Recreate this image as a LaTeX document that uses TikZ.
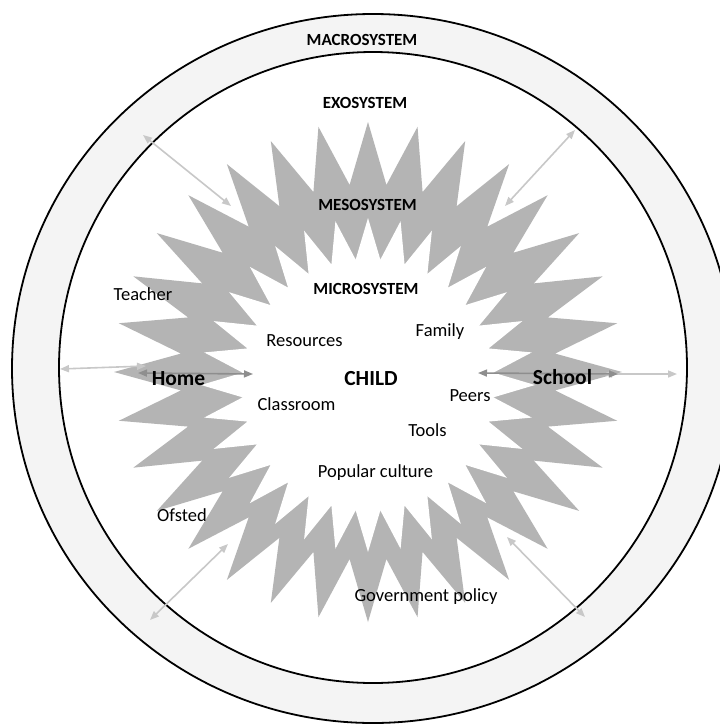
\documentclass[tikz,border=0pt]{standalone}
\usepackage{fontspec}
\setmainfont{Carlito}
\usetikzlibrary{arrows.meta}
\definecolor{ringfill}{HTML}{F4F4F4}
\definecolor{starfill}{HTML}{B4B4B4}
\definecolor{lightarrow}{HTML}{C8C8C8}
\definecolor{darkarrow}{HTML}{8E8E8E}
\tikzset{
  ringline/.style={line width=1.8pt, draw=black},
  syslabel/.style={font=\bfseries\fontsize{17}{20}\selectfont, anchor=base, inner sep=0pt},
  itemlabel/.style={font=\fontsize{18.5}{22}\selectfont, anchor=base, inner sep=0pt},
  placelabel/.style={font=\bfseries\fontsize{21.5}{25}\selectfont, anchor=base, inner sep=0pt},
  linkarrow/.style={line width=1.6pt, {Triangle[length=9pt,width=7pt]}-{Triangle[length=9pt,width=7pt]}},
  lightlink/.style={linkarrow, draw=lightarrow, fill=lightarrow},
  darklink/.style={linkarrow, draw=darkarrow, fill=darkarrow}
}
\begin{document}
\begin{tikzpicture}[x=1pt, y=-1pt]
\useasboundingbox (0,0) rectangle (720,724);
\fill[white] (0,0) rectangle (720,724);

% macrosystem ring and exosystem disc
\filldraw[ringline, fill=ringfill] (373,368.5) ellipse [x radius=361pt, y radius=354.5pt];
\filldraw[ringline, fill=white] (373,367.5) ellipse [x radius=314pt, y radius=315.5pt];

% mesosystem starburst
\begin{scope}[shift={(368,372)}]
  \fill[starfill] (0:254 and 250)
    \foreach \i in {0,...,31}{ -- ({\i*11.25+5.625}:188) -- ({(\i+1)*11.25}:254 and 250) } -- cycle;
\end{scope}
% microsystem centre
\begin{scope}[shift={(368,385)}]
  \fill[white] (0:167)
    \foreach \i in {0,...,31}{ -- ({\i*11.25+5.625}:126) -- ({(\i+1)*11.25}:167) } -- cycle;
\end{scope}

% link end points
\coordinate (ul1) at (143,135); \coordinate (ul2) at (231,206);
\coordinate (ur1) at (575,130); \coordinate (ur2) at (505,206);
\coordinate (ll1) at (150,620); \coordinate (ll2) at (228,544);
\coordinate (lr1) at (507,537); \coordinate (lr2) at (585,617);
\coordinate (hl1) at (60,369);  \coordinate (hl2) at (146,366);
\coordinate (hd1) at (138,373); \coordinate (hd2) at (253,374);
\coordinate (sd1) at (478,373); \coordinate (sd2) at (618,374);
\coordinate (sl1) at (603,374); \coordinate (sl2) at (677,374);

\draw[lightlink] (ul1) -- (ul2);
\draw[lightlink] (ur1) -- (ur2);
\draw[lightlink] (ll1) -- (ll2);
\draw[lightlink] (lr1) -- (lr2);
\draw[lightlink] (hl1) -- (hl2);
\draw[lightlink] (sl1) -- (sl2);
\draw[darklink] (hd1) -- (hd2);
\draw[darklink] (sd1) -- (sd2);

% labels
\node[syslabel] (macro) at (362,45) {MACROSYSTEM};
\node[syslabel] (exo) at (365,108) {EXOSYSTEM};
\node[syslabel] (meso) at (367.5,210) {MESOSYSTEM};
\node[syslabel] (micro) at (366,294) {MICROSYSTEM};

\node[itemlabel] (teacher) at (143,300) {Teacher};
\node[itemlabel] (resources) at (304.5,346) {Resources};
\node[itemlabel] (family) at (440,336) {Family};
\node[itemlabel] (peers) at (470,401) {Peers};
\node[itemlabel] (classroom) at (296.5,410) {Classroom};
\node[itemlabel] (tools) at (427.5,436) {Tools};
\node[itemlabel] (popular) at (375.5,477) {Popular culture};
\node[itemlabel] (ofsted) at (182,521) {Ofsted};
\node[itemlabel] (gov) at (426,601) {Government policy};

\node[placelabel] (home) at (178.5,385) {Home};
\node[placelabel] (child) at (371,385) {CHILD};
\node[placelabel] (school) at (562.5,384) {School};
\end{tikzpicture}
\end{document}
